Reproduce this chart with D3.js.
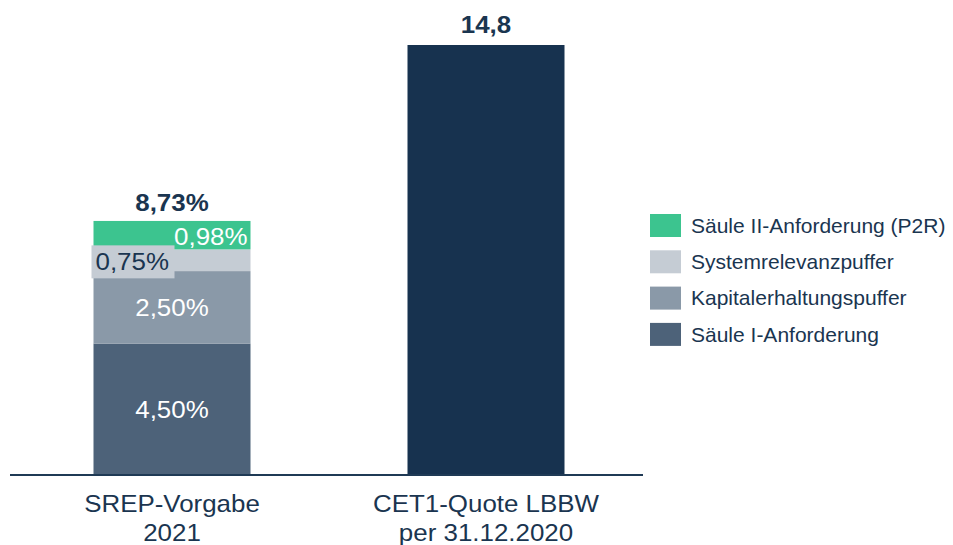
<!DOCTYPE html>
<html>
<head>
<meta charset="utf-8">
<script src="https://cdn.jsdelivr.net/npm/d3@7"></script>
<style>
  html, body { margin: 0; padding: 0; background: #fff; }
  svg { display: block; font-family: "Liberation Sans", Arial, sans-serif; }
</style>
</head>
<body>
<svg id="chart" width="953" height="545"></svg>
<script>
// Categories (two-line labels)
const categories = ["SREP-Vorgabe|2021", "CET1-Quote LBBW|per 31.12.2020"];

// Stacked components of the SREP requirement (bottom to top), in %
const segmentNames = ["Säule I-Anforderung", "Kapitalerhaltungspuffer", "Systemrelevanzpuffer", "Säule II-Anforderung (P2R)"];
const segmentValues = [4.50, 2.50, 0.75, 0.98];
const segmentLabels = ["4,50%", "2,50%", "0,75%", "0,98%"];
const segmentColors = ["#4d6279", "#8a99a8", "#c5ccd4", "#3cc48f"];

// Totals shown above the bars
const srepTotal = 8.73;
const srepTotalLabel = "8,73%";
const cet1Value = 14.8;
const cet1Label = "14,8";

const navy = "#17324f";
const textColor = "#1a3550";
const wide = 1.08; // slight horizontal stretch of the chart-area lettering

const svg = d3.select("#chart");

const x = d3.scaleBand().domain(categories).range([15, 643]).paddingInner(0.5).paddingOuter(0.25);
const y = d3.scaleLinear().domain([0, 14.8]).range([474, 45]);

// Text helper: places a horizontally widened label at (px, py)
function label(parent, px, py, str, opts) {
  const g = parent.append("g").attr("transform", `translate(${px},${py}) scale(${wide},1)`);
  return g.append("text")
    .attr("text-anchor", opts.anchor || "middle")
    .attr("fill", opts.fill || textColor)
    .attr("font-size", opts.size || 24)
    .attr("font-weight", opts.weight || "normal")
    .text(str);
}

// Stacked bar
const stackRows = [Object.fromEntries(segmentNames.map((n, i) => [n, segmentValues[i]]))];
const stacked = d3.stack().keys(segmentNames)(stackRows);
const x0 = x(categories[0]), bw = x.bandwidth();

svg.append("g").selectAll("rect").data(stacked).join("rect")
  .attr("x", x0).attr("width", bw)
  .attr("y", d => y(d[0][1]))
  .attr("height", d => y(d[0][0]) - y(d[0][1]))
  .attr("fill", (d, i) => segmentColors[i]);

// CET1 bar
svg.append("rect")
  .attr("x", x(categories[1])).attr("width", bw)
  .attr("y", y(cet1Value)).attr("height", y(0) - y(cet1Value))
  .attr("fill", navy);

// Axis baseline
svg.append("line")
  .attr("x1", 10).attr("x2", 643).attr("y1", y(0) + 1).attr("y2", y(0) + 1)
  .attr("stroke", "#1f3a55").attr("stroke-width", 2);

const cx = x0 + bw / 2;

// Labels inside the two big segments
[0, 1].forEach(i => {
  const mid = (y(stacked[i][0][0]) + y(stacked[i][0][1])) / 2;
  label(svg, cx, mid + 9, segmentLabels[i], { fill: "#fff" });
});

// 0,98% label: right-aligned in the green segment
{
  const top = y(stacked[3][0][1]);
  label(svg, x0 + bw - 3, top + 24, segmentLabels[3], { anchor: "end", fill: "#fff" });
}

// 0,75% label: left-aligned on a light box reaching into the neighbours
{
  const top = y(stacked[2][0][1]);
  svg.append("rect").attr("fill", segmentColors[2])
    .attr("x", x0 - 2).attr("y", top - 4).attr("width", 83).attr("height", 33);
  label(svg, x0 + 2, top + 21, segmentLabels[2], { anchor: "start" });
}

// Totals
label(svg, cx, y(srepTotal) - 10, srepTotalLabel, { weight: "bold" });
label(svg, x(categories[1]) + bw / 2, y(cet1Value) - 12, cet1Label, { weight: "bold" });

// Category labels
categories.forEach(c => {
  c.split("|").forEach((l, i) => label(svg, x(c) + bw / 2, 512 + i * 29, l, {}));
});

// Legend (top entry = top segment)
const legend = svg.append("g").attr("transform", "translate(650,214)");
const legendItems = segmentNames.map((n, i) => ({ n, c: segmentColors[i] })).reverse();
legendItems.forEach((d, i) => {
  const g = legend.append("g").attr("transform", `translate(0,${i * 36.3})`);
  g.append("rect").attr("width", 31).attr("height", 23).attr("fill", d.c);
  g.append("text").attr("x", 41).attr("y", 11.5).attr("dy", "0.35em")
    .attr("font-size", 21).attr("fill", textColor).text(d.n);
});
</script>
</body>
</html>
